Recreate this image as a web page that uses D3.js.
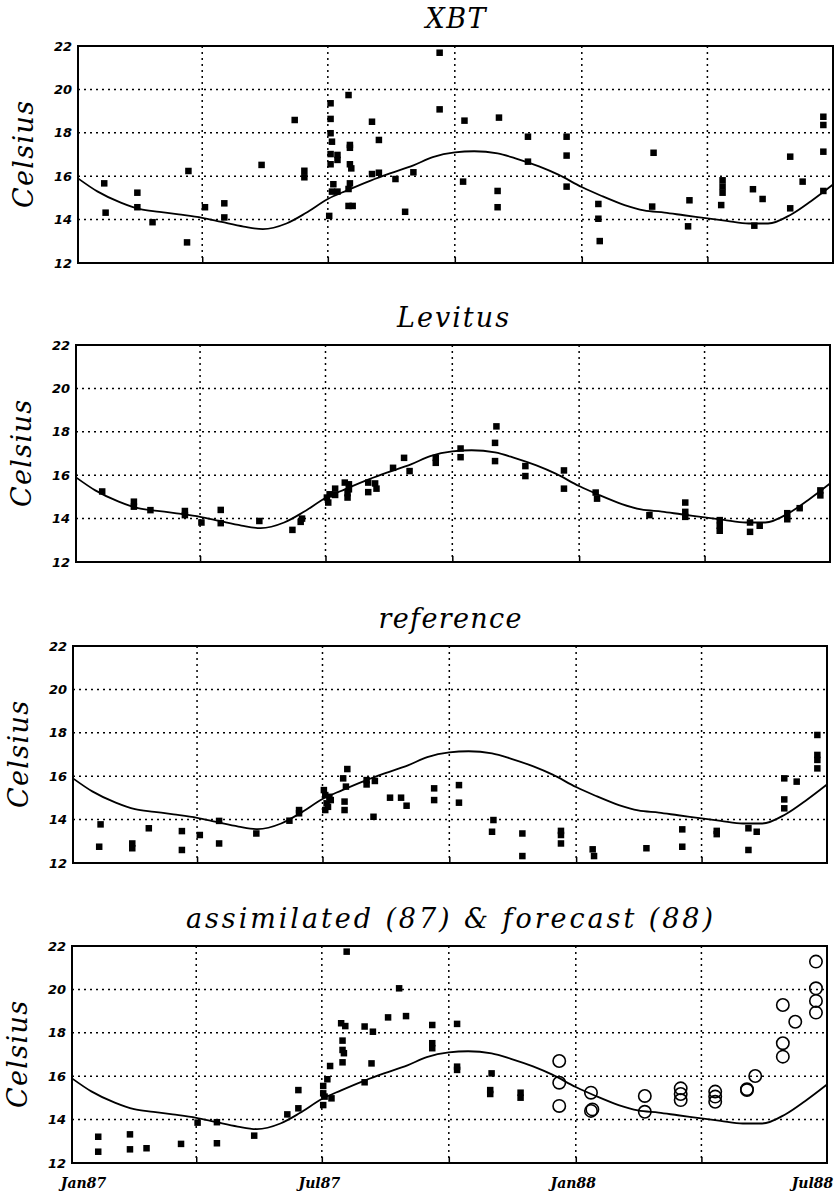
<!DOCTYPE html>
<html>
<head>
<meta charset="UTF-8">
<title>XBT / Levitus / reference / assimilated</title>
<script src="https://cdn.jsdelivr.net/npm/d3@7"></script>
<style>
  body { margin: 0; background: #fff; }
  svg { display: block; background: #fff; }
  .title, .ylabel { font: italic 27px "DejaVu Serif"; text-anchor: middle; fill: #000; }
  .ytick text { font: italic bold 13px "DejaVu Sans"; fill: #000; }
  .xtick text { font: italic bold 14px "DejaVu Serif"; fill: #000; }
  .grid line { stroke: #000; stroke-width: 1.5; stroke-dasharray: 2,4; }
  .frame { fill: none; stroke: #000; stroke-width: 2; }
  .clim { fill: none; stroke: #000; stroke-width: 1.8; }
  .sq { fill: #000; }
  .fc { fill: none; stroke: #000; stroke-width: 1.6; }
</style>
</head>
<body>
<svg width="837" height="1195"></svg>
<script>
// climatology curve, same in every panel
var climCurve = [
  ["1987-01-01", 15.9], ["1987-01-15", 15.3], ["1987-02-01", 14.78], ["1987-02-15", 14.48],
  ["1987-03-01", 14.36], ["1987-03-15", 14.24], ["1987-04-01", 14.08], ["1987-04-15", 13.89],
  ["1987-05-01", 13.68], ["1987-05-15", 13.56], ["1987-06-01", 13.82], ["1987-06-15", 14.3],
  ["1987-07-01", 14.95], ["1987-07-15", 15.35], ["1987-08-01", 15.8], ["1987-08-15", 16.13],
  ["1987-09-01", 16.5], ["1987-09-15", 16.88], ["1987-10-01", 17.1], ["1987-10-15", 17.15],
  ["1987-11-01", 17.05], ["1987-11-15", 16.8], ["1987-12-01", 16.45], ["1987-12-15", 16.07],
  ["1988-01-01", 15.5], ["1988-01-15", 15.1], ["1988-02-01", 14.67], ["1988-02-15", 14.42],
  ["1988-03-01", 14.32], ["1988-03-15", 14.2], ["1988-04-01", 14.06], ["1988-04-15", 13.94],
  ["1988-05-01", 13.82], ["1988-05-15", 13.82], ["1988-06-01", 14.25], ["1988-06-15", 14.85],
  ["1988-07-01", 15.62]
];

var xbtObs = [
  ["1987-01-20", 15.67], ["1987-01-21", 14.32], ["1987-02-13", 15.24], ["1987-02-13", 14.57],
  ["1987-02-24", 13.88], ["1987-03-21", 12.95], ["1987-03-22", 16.24], ["1987-04-03", 14.57],
  ["1987-04-17", 14.75], ["1987-04-17", 14.10], ["1987-05-14", 16.52], ["1987-06-07", 18.59],
  ["1987-06-14", 16.25], ["1987-06-14", 15.95], ["1987-07-03", 19.36], ["1987-07-03", 18.64],
  ["1987-07-03", 17.98], ["1987-07-04", 17.59], ["1987-07-03", 17.02], ["1987-07-03", 16.55],
  ["1987-07-05", 15.63], ["1987-07-04", 15.29], ["1987-07-02", 14.17], ["1987-07-08", 16.98],
  ["1987-07-08", 16.75], ["1987-07-08", 15.29], ["1987-07-16", 19.74], ["1987-07-17", 17.44],
  ["1987-07-17", 17.31], ["1987-07-17", 16.55], ["1987-07-18", 16.36], ["1987-07-17", 15.67],
  ["1987-07-16", 15.41], ["1987-07-16", 14.63], ["1987-07-19", 14.63], ["1987-08-02", 18.51],
  ["1987-08-07", 17.67], ["1987-08-02", 16.10], ["1987-08-07", 16.16], ["1987-08-19", 15.87],
  ["1987-08-26", 14.36], ["1987-09-01", 16.18], ["1987-09-20", 21.69], ["1987-09-20", 19.08],
  ["1987-10-08", 18.56], ["1987-10-07", 15.75], ["1987-11-02", 18.70], ["1987-11-01", 15.32],
  ["1987-11-01", 14.57], ["1987-11-23", 17.82], ["1987-11-23", 16.67], ["1987-12-21", 17.82],
  ["1987-12-21", 16.95], ["1987-12-21", 15.52], ["1988-01-13", 14.72], ["1988-01-13", 14.04],
  ["1988-01-14", 13.01], ["1988-02-22", 17.08], ["1988-02-21", 14.60], ["1988-03-19", 14.89],
  ["1988-03-18", 13.69], ["1988-04-12", 15.81], ["1988-04-12", 15.52], ["1988-04-12", 15.24],
  ["1988-04-11", 14.67], ["1988-05-04", 15.40], ["1988-05-05", 13.72], ["1988-05-11", 14.95],
  ["1988-05-31", 16.90], ["1988-05-31", 14.52], ["1988-06-09", 15.75], ["1988-06-24", 18.74],
  ["1988-06-24", 18.36], ["1988-06-24", 17.13], ["1988-06-24", 15.32]
];

var levitusObs = [
  ["1987-01-20", 15.25], ["1987-02-12", 14.78], ["1987-02-12", 14.55], ["1987-02-24", 14.39],
  ["1987-03-21", 14.35], ["1987-03-21", 14.16], ["1987-04-02", 13.82], ["1987-04-16", 14.40],
  ["1987-04-16", 13.79], ["1987-05-14", 13.89], ["1987-06-07", 13.48], ["1987-06-14", 14.00],
  ["1987-06-13", 13.85], ["1987-07-02", 14.97], ["1987-07-03", 14.74], ["1987-07-04", 15.12],
  ["1987-07-08", 15.38], ["1987-07-08", 15.09], ["1987-07-15", 15.66], ["1987-07-17", 15.17],
  ["1987-07-17", 14.97], ["1987-07-18", 15.58], ["1987-07-18", 15.35], ["1987-08-01", 15.66],
  ["1987-08-01", 15.22], ["1987-08-06", 15.62], ["1987-08-07", 15.38], ["1987-08-19", 16.34],
  ["1987-08-27", 16.80], ["1987-08-31", 16.19], ["1987-09-19", 16.80], ["1987-09-19", 16.57],
  ["1987-10-07", 17.23], ["1987-10-07", 16.83], ["1987-11-02", 18.25], ["1987-11-01", 17.49],
  ["1987-11-01", 16.65], ["1987-11-23", 16.42], ["1987-11-23", 15.96], ["1987-12-21", 16.22],
  ["1987-12-21", 15.38], ["1988-01-13", 15.20], ["1988-01-14", 14.92], ["1988-02-21", 14.16],
  ["1988-03-18", 14.74], ["1988-03-18", 14.31], ["1988-03-18", 14.08], ["1988-04-12", 13.93],
  ["1988-04-12", 13.67], ["1988-04-12", 13.44], ["1988-05-04", 13.82], ["1988-05-04", 13.39],
  ["1988-05-11", 13.67], ["1988-05-31", 14.25], ["1988-05-31", 13.97], ["1988-06-09", 14.48],
  ["1988-06-24", 15.30], ["1988-06-24", 15.07]
];

var referenceObs = [
  ["1987-01-21", 13.78], ["1987-01-20", 12.75], ["1987-02-13", 12.90], ["1987-02-13", 12.68],
  ["1987-02-25", 13.60], ["1987-03-21", 13.47], ["1987-03-21", 12.60], ["1987-04-03", 13.29],
  ["1987-04-17", 13.94], ["1987-04-17", 12.90], ["1987-05-14", 13.36], ["1987-06-07", 13.95],
  ["1987-06-14", 14.44], ["1987-06-14", 14.29], ["1987-07-02", 15.36], ["1987-07-03", 15.13],
  ["1987-07-04", 14.75], ["1987-07-03", 14.44], ["1987-07-06", 15.05], ["1987-07-07", 14.90],
  ["1987-07-05", 14.59], ["1987-07-19", 16.33], ["1987-07-16", 15.90], ["1987-07-18", 15.52],
  ["1987-07-17", 14.83], ["1987-07-17", 14.44], ["1987-08-02", 15.82], ["1987-08-02", 15.62],
  ["1987-08-08", 15.78], ["1987-08-07", 14.13], ["1987-08-19", 15.01], ["1987-08-27", 15.01],
  ["1987-08-31", 14.64], ["1987-09-20", 15.44], ["1987-09-20", 14.90], ["1987-10-08", 15.59],
  ["1987-10-08", 14.78], ["1987-11-02", 13.98], ["1987-11-01", 13.44], ["1987-11-23", 13.36],
  ["1987-11-23", 12.32], ["1987-12-21", 13.48], ["1987-12-21", 13.29], ["1987-12-21", 12.90],
  ["1988-01-13", 12.63], ["1988-01-14", 12.32], ["1988-02-21", 12.68], ["1988-03-18", 13.55],
  ["1988-03-18", 12.75], ["1988-04-12", 13.48], ["1988-04-12", 13.33], ["1988-05-05", 13.60],
  ["1988-05-05", 12.60], ["1988-05-11", 13.44], ["1988-05-31", 15.90], ["1988-05-31", 14.93],
  ["1988-05-31", 14.52], ["1988-06-09", 15.75], ["1988-06-24", 17.90], ["1988-06-24", 16.98],
  ["1988-06-24", 16.75], ["1988-06-24", 16.36]
];

var assimObs = [
  ["1987-01-20", 13.21], ["1987-01-20", 12.52], ["1987-02-12", 13.32], ["1987-02-12", 12.63],
  ["1987-02-24", 12.68], ["1987-03-21", 12.88], ["1987-04-02", 13.86], ["1987-04-16", 13.88],
  ["1987-04-16", 12.91], ["1987-05-13", 13.26], ["1987-06-06", 14.24], ["1987-06-14", 15.36],
  ["1987-06-14", 14.52], ["1987-07-02", 15.55], ["1987-07-02", 15.21], ["1987-07-03", 15.06],
  ["1987-07-02", 14.67], ["1987-07-05", 15.86], ["1987-07-08", 14.98], ["1987-07-07", 16.47],
  ["1987-07-19", 21.74], ["1987-07-15", 18.44], ["1987-07-18", 18.31], ["1987-07-16", 17.64],
  ["1987-07-16", 17.21], ["1987-07-17", 17.06], ["1987-07-16", 16.64], ["1987-08-01", 18.29],
  ["1987-08-07", 18.05], ["1987-08-06", 16.59], ["1987-08-01", 15.72], ["1987-08-26", 20.05],
  ["1987-08-18", 18.71], ["1987-08-31", 18.77], ["1987-09-19", 18.36], ["1987-09-19", 17.52],
  ["1987-09-19", 17.29], ["1987-10-07", 18.41], ["1987-10-07", 16.44], ["1987-10-07", 16.29],
  ["1987-11-01", 16.13], ["1987-10-31", 15.36], ["1987-10-31", 15.18], ["1987-11-22", 15.24],
  ["1987-11-22", 15.01]
];

var forecastObs = [
  ["1987-12-20", 16.70], ["1987-12-20", 15.70], ["1987-12-20", 14.63], ["1988-01-12", 15.24],
  ["1988-01-13", 14.47], ["1988-01-12", 14.40], ["1988-02-20", 15.09], ["1988-02-20", 14.36],
  ["1988-03-17", 15.44], ["1988-03-17", 15.18], ["1988-03-17", 14.90], ["1988-04-11", 15.29],
  ["1988-04-11", 15.06], ["1988-04-11", 14.82], ["1988-05-04", 15.40], ["1988-05-04", 15.36],
  ["1988-05-10", 16.01], ["1988-05-30", 19.28], ["1988-06-08", 18.51], ["1988-05-30", 17.52],
  ["1988-05-30", 16.90], ["1988-06-23", 21.28], ["1988-06-23", 20.05], ["1988-06-23", 19.47],
  ["1988-06-23", 18.93]
];

var panelTitles = ["XBT", "Levitus", "reference", "assimilated (87) & forecast (88)"];
var panelSquares = [xbtObs, levitusObs, referenceObs, assimObs];
var panelCircles = [[], [], [], forecastObs];
var yTickValues = [12, 14, 16, 18, 20, 22];
var xLabelDates = ["1987-01-01", "1987-07-01", "1988-01-01", "1988-07-01"];
var timeSpan = ["1987-01-01", "1988-07-01"];

// layout of the scanned figure (it drifts a little to the left going down)
var boxes = [
  {top: 46, left: 78, right: 833, titleW: 60},
  {top: 345, left: 76, right: 830, titleW: 112},
  {top: 646, left: 73, right: 827, titleW: 143},
  {top: 946, left: 72, right: 827, titleW: 527}
];
var plotH = 217;

var parse = d3.utcParse("%Y-%m-%d");
var svg = d3.select("svg");

panelTitles.forEach(function (title, i) {
  var b = boxes[i];
  var x = d3.scaleUtc().domain(timeSpan.map(parse)).range([b.left, b.right]);
  var y = d3.scaleLinear().domain([12, 22]).range([b.top + plotH, b.top]);
  var w = b.right - b.left;
  var g = svg.append("g");

  // dotted grid
  var quarters = d3.utcMonth.every(3).range(parse(timeSpan[0]), parse(timeSpan[1])).slice(1);
  g.append("g").attr("class", "grid")
    .selectAll("line").data([14, 16, 18, 20]).enter().append("line")
    .attr("x1", b.left).attr("x2", b.right)
    .attr("y1", function (d) { return y(d); }).attr("y2", function (d) { return y(d); });
  g.append("g").attr("class", "grid")
    .selectAll("line").data(quarters).enter().append("line")
    .attr("x1", function (d) { return x(d); }).attr("x2", function (d) { return x(d); })
    .attr("y1", b.top).attr("y2", b.top + plotH);

  // small solid ticks at the bottom of the vertical grid
  g.append("g")
    .attr("transform", "translate(0," + (b.top + plotH) + ")")
    .call(d3.axisBottom(x).tickValues(quarters).tickSize(-6).tickFormat(""))
    .call(function (a) { a.select(".domain").remove(); })
    .selectAll("line").attr("stroke", "#000").attr("stroke-width", 1.5);

  g.append("rect").attr("class", "frame")
    .attr("x", b.left).attr("y", b.top).attr("width", w).attr("height", plotH);

  // y tick labels
  g.append("g").attr("class", "ytick")
    .attr("transform", "translate(" + b.left + ",0)")
    .call(d3.axisLeft(y).tickValues(yTickValues).tickSize(0).tickPadding(6))
    .call(function (a) { a.select(".domain").remove(); });

  // climatology
  var line = d3.line()
    .x(function (d) { return x(parse(d[0])); })
    .y(function (d) { return y(d[1]); })
    .curve(d3.curveMonotoneX);
  g.append("path").attr("class", "clim").attr("d", line(climCurve));

  var s = 6.5;
  g.selectAll(".sq").data(panelSquares[i]).enter().append("rect")
    .attr("class", "sq")
    .attr("x", function (d) { return x(parse(d[0])) - s / 2; })
    .attr("y", function (d) { return y(d[1]) - s / 2; })
    .attr("width", s).attr("height", s);

  g.selectAll(".fc").data(panelCircles[i]).enter().append("circle")
    .attr("class", "fc")
    .attr("cx", function (d) { return x(parse(d[0])); })
    .attr("cy", function (d) { return y(d[1]); })
    .attr("r", 6.2);

  // titles
  g.append("text").attr("class", "title")
    .attr("x", (b.left + b.right) / 2).attr("y", b.top - 18)
    .attr("textLength", b.titleW).attr("lengthAdjust", "spacing")
    .text(title);

  g.append("text").attr("class", "ylabel")
    .attr("transform", "translate(" + (b.left - 45) + "," + (b.top + plotH / 2) + ") rotate(-90)")
    .attr("textLength", 107).attr("lengthAdjust", "spacing")
    .text("Celsius");

  // date labels only under the last panel
  if (i === panelTitles.length - 1) {
    var xa = g.append("g").attr("class", "xtick")
      .attr("transform", "translate(0," + (b.top + plotH) + ")")
      .call(d3.axisBottom(x).tickValues(xLabelDates.map(parse)).tickSize(0)
        .tickFormat(d3.utcFormat("%b%y")));
    xa.select(".domain").remove();
    xa.selectAll("text").attr("y", 25).attr("dy", 0)
      .attr("dx", function (d, k) { return k === 0 ? 11 : k === xLabelDates.length - 1 ? -15 : -3; });
  }
});
</script>
</body>
</html>
